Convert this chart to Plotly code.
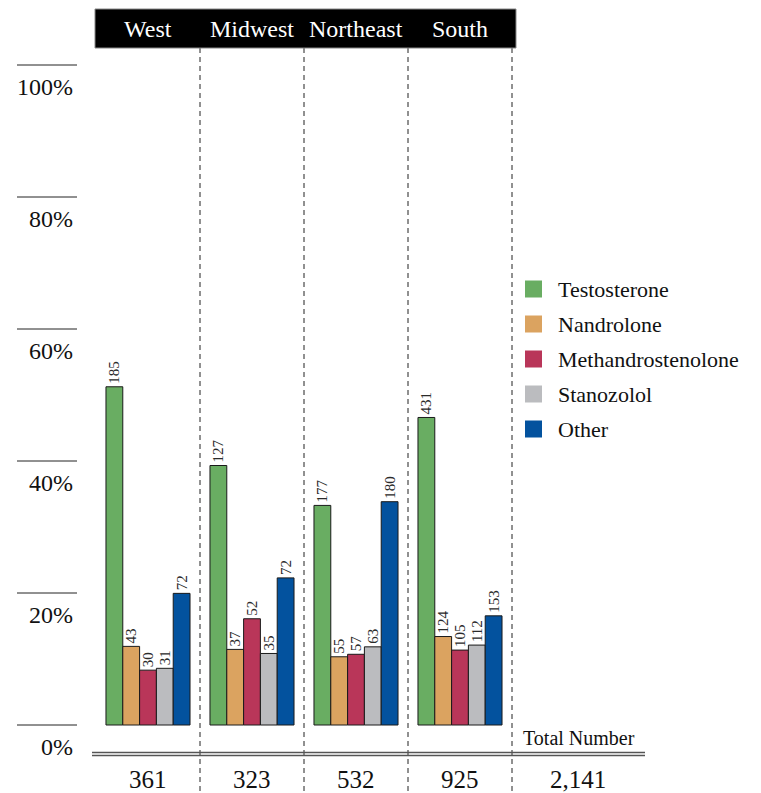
import plotly.graph_objects as go

# Survey counts by region and steroid type
regions = ["West", "Midwest", "Northeast", "South"]
drugs = ["Testosterone", "Nandrolone", "Methandrostenolone", "Stanozolol", "Other"]
testosterone = [185, 127, 177, 431]
nandrolone = [43, 37, 55, 124]
methandrostenolone = [30, 52, 57, 105]
stanozolol = [31, 35, 63, 112]
other = [72, 72, 180, 153]
region_totals = [361, 323, 532, 925]
grand_total = 2141
y_ticks = [0, 20, 40, 60, 80, 100]

series = [testosterone, nandrolone, methandrostenolone, stanozolol, other]
colors = ["#69ad62", "#dba360", "#b93659", "#bbbcbf", "#03529e"]

W, H = 761, 793
FONT = "Liberation Serif"

# pixel <-> data helpers (plot area fills the whole page)
X0_PX, CAT_PX = 96, 104      # left edge of first category, category width
Y0_PX, PCT_PX = 725, 6.6     # baseline pixel, pixels per percent


def dx(px):
    return (px - X0_PX) / CAT_PX - 0.5


def dy(py):
    return (Y0_PX - py) / PCT_PX


fig = go.Figure()
xs = list(range(len(regions)))
for name, vals, col in zip(drugs, series, colors):
    pct = [v / t * 100 for v, t in zip(vals, region_totals)]
    fig.add_trace(go.Bar(
        x=xs, y=pct, name=name, text=[str(v) for v in vals],
        textposition="outside", textangle=-90, constraintext="none",
        cliponaxis=False,
        textfont=dict(family=FONT, size=15, color="#2a2a2a"),
        marker=dict(color=col, line=dict(color="#1a1a1a", width=1)),
        showlegend=False, hoverinfo="skip",
    ))

shapes = []
annotations = []

# header band with region names
shapes.append(dict(type="rect", xref="x", yref="y", x0=dx(95), x1=dx(516),
                   y0=dy(9), y1=dy(48), fillcolor="black",
                   line=dict(color="#888888", width=1), layer="above"))
for i, r in enumerate(regions):
    annotations.append(dict(x=i, y=dy(29), xref="x", yref="y", text=r,
                            showarrow=False, xanchor="center", yanchor="middle",
                            font=dict(family=FONT, size=24, color="white")))

# dashed region separators
for i in range(len(regions)):
    xv = i + 0.5
    shapes.append(dict(type="line", xref="x", yref="y", x0=xv, x1=xv,
                       y0=dy(48), y1=dy(H), layer="below",
                       line=dict(color="#222222", width=1, dash="5px,4px")))

# y-axis tick rules and labels
for t in y_ticks:
    shapes.append(dict(type="line", xref="x", yref="y", x0=dx(17), x1=dx(77),
                       y0=t, y1=t, line=dict(color="#222222", width=1)))
    annotations.append(dict(x=dx(75), y=t, xref="x", yref="y", yshift=-22,
                            text=f"{t}%", showarrow=False, xanchor="right",
                            yanchor="middle",
                            font=dict(family=FONT, size=24, color="#111111")))

# double rule above totals
for py in (752.5, 755.5):
    shapes.append(dict(type="line", xref="x", yref="y", x0=dx(92), x1=dx(645),
                       y0=dy(py), y1=dy(py),
                       line=dict(color="#555555", width=1.3)))

# totals row
for i, tot in enumerate(region_totals):
    annotations.append(dict(x=i, y=dy(779), xref="x", yref="y", text=f"{tot:,}",
                            showarrow=False, xanchor="center", yanchor="middle",
                            font=dict(family=FONT, size=25, color="#111111")))
annotations.append(dict(x=dx(578), y=dy(779), xref="x", yref="y",
                        text=f"{grand_total:,}", showarrow=False,
                        xanchor="center", yanchor="middle",
                        font=dict(family=FONT, size=25, color="#111111")))
annotations.append(dict(x=dx(521), y=dy(738), xref="x", yref="y",
                        text="Total Number", showarrow=False,
                        xanchor="left", yanchor="middle",
                        font=dict(family=FONT, size=20, color="#111111")))

# legend
for k, (name, col) in enumerate(zip(drugs, colors)):
    cy = 289 + k * 35
    shapes.append(dict(type="rect", xref="x", yref="y", x0=dx(525), x1=dx(542),
                       y0=dy(cy - 8.5), y1=dy(cy + 8.5), fillcolor=col,
                       line=dict(width=0)))
    annotations.append(dict(x=dx(556), y=dy(cy), xref="x", yref="y", text=name,
                            showarrow=False, xanchor="left", yanchor="middle",
                            font=dict(family=FONT, size=22, color="#111111")))

fig.update_layout(
    width=W, height=H, autosize=False,
    margin=dict(l=0, r=0, t=0, b=0, pad=0),
    paper_bgcolor="white", plot_bgcolor="white",
    barmode="group", bargap=0.192, bargroupgap=0,
    xaxis=dict(range=[dx(0), dx(W)], visible=False, showgrid=False, zeroline=False),
    yaxis=dict(range=[dy(H), dy(0)], visible=False, showgrid=False, zeroline=False),
    shapes=shapes, annotations=annotations,
    uniformtext=dict(mode=False),
)

fig.write_html("out.html")
